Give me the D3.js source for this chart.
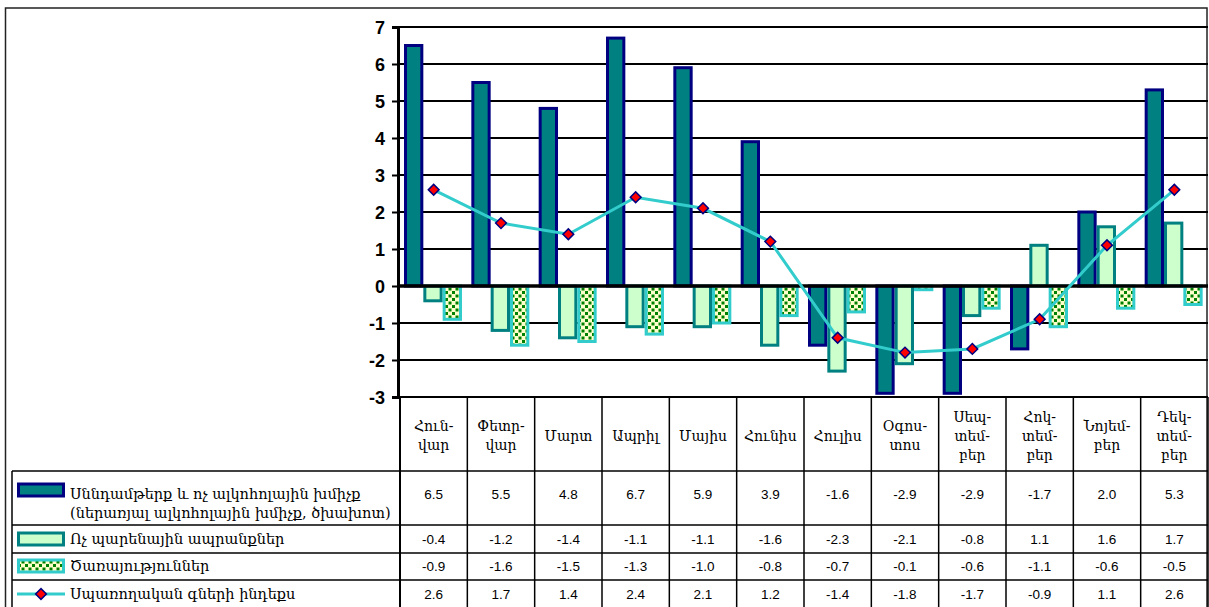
<!DOCTYPE html>
<html><head><meta charset="utf-8">
<script src="https://cdn.jsdelivr.net/npm/d3@7"></script>
<style>
body{margin:0;background:#fff;}
svg{display:block;}
</style></head>
<body>
<svg id="c" width="1209" height="607"></svg>
<script>
const months = [["Հուն-","վար"],["Փետր-","վար"],["Մարտ"],["Ապրիլ"],["Մայիս"],["Հունիս"],["Հուլիս"],["Օգոս-","տոս"],["Սեպ-","տեմ-","բեր"],["Հոկ-","տեմ-","բեր"],["Նոյեմ-","բեր"],["Դեկ-","տեմ-","բեր"]];
const food = [6.5,5.5,4.8,6.7,5.9,3.9,-1.6,-2.9,-2.9,-1.7,2.0,5.3];
const nonFood = [-0.4,-1.2,-1.4,-1.1,-1.1,-1.6,-2.3,-2.1,-0.8,1.1,1.6,1.7];
const services = [-0.9,-1.6,-1.5,-1.3,-1.0,-0.8,-0.7,-0.1,-0.6,-1.1,-0.6,-0.5];
const cpi = [2.6,1.7,1.4,2.4,2.1,1.2,-1.4,-1.8,-1.7,-0.9,1.1,2.6];
const seriesNames = [["Սննդամթերք և ոչ ալկոհոլային խմիչք","(ներառյալ ալկոհոլային խմիչք, ծխախոտ)"],["Ոչ պարենային ապրանքներ"],["Ծառայություններ"],["Սպառողական գների ինդեքս"]];
const yTicks = [-3,-2,-1,0,1,2,3,4,5,6,7];

const svg = d3.select("#c");
const armFont = "'DejaVu Serif', 'DejaVu Sans', serif";
const numFont = "'Liberation Sans', Arial, sans-serif";

const defs = svg.append("defs");
const pat = defs.append("pattern").attr("id","dots").attr("patternUnits","userSpaceOnUse")
  .attr("width",7).attr("height",7);
pat.append("rect").attr("width",7).attr("height",7).attr("fill","#FFFFCC");
pat.append("rect").attr("x",0.5).attr("y",0.5).attr("width",3).attr("height",3).attr("fill","#008000");
pat.append("rect").attr("x",4).attr("y",4).attr("width",3).attr("height",3).attr("fill","#008000");

const idx = months.map((d,i)=>i);
const x = d3.scaleBand().domain(idx).range([400,1208]).padding(0);
const y = d3.scaleLinear().domain([-3,7]).range([397,27]);
const xs = d3.scaleBand().domain([0,1,2]).range([4,62]).padding(0);

// frame
svg.append("rect").attr("x",5.5).attr("y",8).attr("width",1201.5).attr("height",602)
  .attr("fill","none").attr("stroke","#222").attr("stroke-width",1.5);

// gridlines
svg.append("g").selectAll("line").data(yTicks.filter(t=>t!==0)).join("line")
  .attr("x1",398).attr("x2",1208).attr("y1",d=>y(d)).attr("y2",d=>y(d))
  .attr("stroke","#000").attr("stroke-width",2);

// y axis
const yAxis = d3.axisLeft(y).tickValues(yTicks).tickSize(6).tickFormat(d=>String(d));
const ga = svg.append("g").attr("transform","translate(398,0)").call(yAxis);
ga.select(".domain").attr("stroke","#000").attr("stroke-width",3);
ga.selectAll(".tick line").attr("stroke","#000").attr("stroke-width",2);
ga.selectAll(".tick text").attr("font-family",numFont).attr("font-weight","bold")
  .attr("font-size",18).attr("fill","#000").attr("x",-13).attr("dy","0.34em");

// bars
const series = [
  {v:food, fill:"#008080", stroke:"#000080"},
  {v:nonFood, fill:"#CCFFCC", stroke:"#008080"},
  {v:services, fill:"url(#dots)", stroke:"#33CCCC"}
];
series.forEach((s,si)=>{
  svg.append("g").selectAll("rect").data(s.v).join("rect")
    .attr("x",(d,i)=>x(i)+xs(si)+1.5)
    .attr("width",xs.bandwidth()-3)
    .attr("y",d=>Math.min(y(d),y(0)))
    .attr("height",d=>Math.abs(y(d)-y(0)))
    .attr("fill",s.fill).attr("stroke",s.stroke).attr("stroke-width",3);
});

// zero line
svg.append("line").attr("x1",398).attr("x2",1208).attr("y1",y(0)).attr("y2",y(0))
  .attr("stroke","#000").attr("stroke-width",3.5);

// cpi line
const line = d3.line().x((d,i)=>x(i)+x.bandwidth()/2).y(d=>y(d));
svg.append("path").datum(cpi).attr("d",line).attr("fill","none")
  .attr("stroke","#33CCCC").attr("stroke-width",3);
const diamond = d3.symbol().type(d3.symbolSquare).size(58);
svg.append("g").selectAll("path").data(cpi).join("path")
  .attr("d",diamond)
  .attr("transform",(d,i)=>`translate(${x(i)+x.bandwidth()/2},${y(d)}) rotate(45)`)
  .attr("fill","#FF0000").attr("stroke","#000080").attr("stroke-width",1.5);

// data table
const rowsY = [471,525,553,580,607];
const tbl = svg.append("g");
tbl.selectAll("line.v").data(d3.range(13)).join("line")
  .attr("x1",i=>i<12?x(i):1208).attr("x2",i=>i<12?x(i):1208)
  .attr("y1",397).attr("y2",607).attr("stroke","#000").attr("stroke-width",i=>i===0?2:1.5);
tbl.selectAll("line.h").data(rowsY.slice(0,4)).join("line")
  .attr("x1",12).attr("x2",1208).attr("y1",d=>d).attr("y2",d=>d)
  .attr("stroke","#000").attr("stroke-width",1.5);
tbl.append("line").attr("x1",12).attr("x2",12).attr("y1",471).attr("y2",607)
  .attr("stroke","#000").attr("stroke-width",1.5);

// month labels
months.forEach((m,i)=>{
  const n = m.length, lh = 19;
  const cy = 436;
  m.forEach((t,j)=>{
    svg.append("text").attr("x",x(i)+x.bandwidth()/2)
      .attr("y",cy + (j-(n-1)/2)*lh).attr("dy","0.35em")
      .attr("text-anchor","middle").attr("font-family",armFont).attr("font-size",14)
      .attr("fill","#000").text(t);
  });
});

// values
const allVals = [food,nonFood,services,cpi];
const valY = [494,539,566,594];
allVals.forEach((vals,r)=>{
  svg.append("g").selectAll("text").data(vals).join("text")
    .attr("x",(d,i)=>x(i)+x.bandwidth()/2).attr("y",valY[r]).attr("dy","0.35em")
    .attr("text-anchor","middle").attr("font-family",numFont).attr("font-size",13.5)
    .attr("fill","#000").text(d=>d.toFixed(1));
});

// legend keys
const keyX = 17, keyW = 48, keyH = 12;
const keyY = [490,539,566,594];
[0,1,2].forEach(si=>{
  const s = series[si];
  svg.append("rect").attr("x",keyX+1.5).attr("y",keyY[si]-keyH/2).attr("width",keyW-3).attr("height",keyH)
    .attr("fill",s.fill).attr("stroke",s.stroke).attr("stroke-width",3);
});
svg.append("line").attr("x1",keyX).attr("x2",keyX+keyW).attr("y1",keyY[3]).attr("y2",keyY[3])
  .attr("stroke","#33CCCC").attr("stroke-width",3);
svg.append("path").attr("d",diamond)
  .attr("transform",`translate(${keyX+keyW/2},${keyY[3]}) rotate(45)`)
  .attr("fill","#FF0000").attr("stroke","#000080").attr("stroke-width",1.5);

// legend labels
const labY = [[494,513],[539],[566],[594]];
seriesNames.forEach((lines,r)=>{
  lines.forEach((t,j)=>{
    svg.append("text").attr("x",70).attr("y",labY[r][j]).attr("dy","0.35em")
      .attr("font-family",armFont).attr("font-size",14.5).attr("fill","#000").text(t);
  });
});
</script>
</body></html>
